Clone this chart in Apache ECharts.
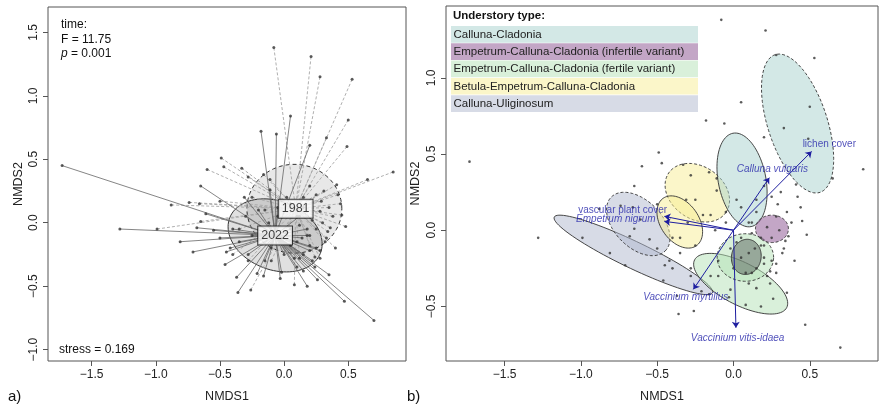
<!DOCTYPE html>
<html>
<head>
<meta charset="utf-8">
<script src="https://cdn.jsdelivr.net/npm/echarts@6/dist/echarts.min.js"></script>
<style>html,body{margin:0;padding:0;background:#fff;}#c{width:879px;height:408px;}</style>
</head>
<body>
<div id="c"></div>
<script>
// ---------------- DATA ----------------
const xTicks = [-1.5, -1.0, -0.5, 0.0, 0.5];
const yTicksA = [-1.0, -0.5, 0.0, 0.5, 1.0, 1.5];
const yTicksB = [-0.5, 0.0, 0.5, 1.0];

// site scores, 1981 survey
const pts1981 = [
  [-0.08,1.38],[0.21,1.31],[0.28,1.15],[0.53,1.13],[0.50,0.81],[0.33,0.67],[0.49,0.60],[0.85,0.40],[0.65,0.34],
  [-0.49,0.51],[-0.60,0.42],[-0.33,0.43],[-0.47,0.44],[-0.74,0.16],[-0.66,0.15],[-0.50,0.17],[-0.99,-0.05],[-0.65,0.01],[-0.88,0.14],[-0.28,0.36],
  [-0.16,0.38],[-0.11,0.34],[0.02,0.20],[0.20,0.29],[0.41,0.30],[0.42,0.22],[0.44,0.15],[0.45,0.06],[0.48,-0.03],[0.40,-0.20],
  [0.34,-0.07],[0.33,-0.12],[0.28,0.09],[0.29,0.17],[0.36,-0.04],[0.24,-0.27],[0.28,-0.28],[0.10,0.05],[0.15,0.12],[0.22,0.02],
  [0.05,0.15],[0.25,-0.05],[0.18,-0.10],[0.30,0.00],[0.12,-0.02],[-0.05,0.05],[0.35,0.12],[0.25,0.22],[0.02,-0.08],[0.20,-0.18],
  [0.32,-0.15],[-0.15,0.10],[-0.25,0.20],[-0.35,-0.05],[0.38,0.05],[0.31,0.25],[0.15,0.20],
  [-0.26,-0.53],[0.08,-0.49],[-0.28,-0.30],[-0.40,-0.25],[-0.10,-0.30],[0.12,-0.28]
];
// site scores, 2022 resurvey
const pts2022 = [
  [-1.73,0.45],[-1.28,-0.05],[-0.81,-0.15],[-0.71,-0.23],[-0.68,-0.04],[-0.65,0.29],[-0.61,0.07],[-0.18,0.72],[-0.06,0.70],[0.05,0.84],
  [0.20,0.61],[0.70,-0.77],[0.47,-0.62],[0.35,-0.41],[0.26,-0.45],[0.18,-0.50],[-0.36,-0.55],[-0.37,-0.43],[-0.16,-0.42],[-0.21,-0.40],
  [-0.03,-0.44],[-0.02,-0.39],[-0.46,-0.33],[-0.45,-0.23],[-0.42,-0.20],[-0.55,-0.06],[-0.50,-0.12],[-0.11,0.26],[-0.31,0.20],
  [-0.30,0.05],[-0.25,-0.10],[-0.20,0.10],[-0.35,-0.15],[-0.10,-0.20],[0.00,-0.25],[0.10,-0.15],[0.15,-0.25],[0.20,-0.10],[0.22,-0.30],
  [0.25,-0.20],[0.05,-0.05],[-0.05,0.12],[-0.15,-0.30],[0.10,-0.35],[0.18,-0.05],[0.28,-0.22],[0.12,0.05],[-0.40,-0.05],[-0.28,-0.25],
  [0.08,-0.28],[0.15,-0.38],[0.24,-0.35],[-0.12,0.00],[0.05,-0.18],[-0.02,-0.12],[0.14,-0.12],[0.20,-0.22]
];
const centroid1981 = [0.09, 0.11];
const centroid2022 = [-0.07, -0.10];
const yearLabels = ['1981', '2022'];
// time ellipses: [cx, cy, semiA, semiB, angleDeg]
const timeEllipse1981 = [0.08, 0.11, 0.37, 0.35, 0];
const timeEllipse2022 = [-0.07, -0.10, 0.38, 0.27, -22];

// understory types
const typeNames = ['Calluna-Cladonia','Empetrum-Calluna-Cladonia (infertile variant)','Empetrum-Calluna-Cladonia (fertile variant)','Betula-Empetrum-Calluna-Cladonia','Calluna-Uliginosum'];
// type ellipses: [cx, cy, semiA, semiB, angleDeg, typeIndex, dashed(1=1981)]
const typeEllipses = [
  [-0.656,-0.162,0.575,0.088,-25.6,4,0],
  [-0.624, 0.041,0.250,0.155,-45,4,1],
  [-0.237, 0.246,0.228,0.172,-35,3,1],
  [-0.352, 0.054,0.190,0.125,-55,3,0],
  [ 0.056, 0.330,0.312,0.156,101,0,0],
  [ 0.420, 0.700,0.475,0.195,108,0,1],
  [ 0.047,-0.351,0.340,0.138,-27.5,2,0],
  [ 0.078,-0.179,0.185,0.156,0,2,1],
  [ 0.252, 0.009,0.108,0.090,0,1,1],
  [ 0.084,-0.175,0.116,0.097,80,1,0]
];
// envfit vectors
const vecNames = ['lichen cover','Calluna vulgaris','vascular plant cover','Empetrum nigrum','Vaccinium myrtillus','Vaccinium vitis-idaea'];
const vecTips = [[0.512,0.517],[0.235,0.345],[-0.453,0.091],[-0.453,0.058],[-0.263,-0.388],[0.016,-0.640]];
const vecLabelPos = [[0.628,0.567],[0.255,0.399],[-0.726,0.134],[-0.771,0.069],[-0.313,-0.442],[0.027,-0.707]];
const vecItalic = [false,true,false,true,true,true];

// ---------------- STYLE ----------------
const FONT = '"Liberation Sans", Arial, Helvetica, sans-serif';
const typeFill = ['rgba(167,209,205,0.5)','rgba(135,77,141,0.5)','rgba(179,225,181,0.5)','rgba(247,237,147,0.5)','rgba(175,183,205,0.5)'];
const typeLegend = ['#d3e8e6','#c3a6c6','#d9f0da','#fbf6c9','#d7dbe6'];
const darkOverride = 'rgba(85,95,90,0.5)';
const fmt = v => (v < 0 ? '\u2212' : '') + Math.abs(v).toFixed(1);

function xAxisCfg(gi, min, max) {
  return {
    type: 'value', gridIndex: gi, min: min, max: max,
    name: 'NMDS1', nameLocation: 'middle', nameGap: 29,
    nameTextStyle: {fontSize: 12.5, color: '#222', fontFamily: FONT},
    axisLine: {show: false, onZero: false},
    splitLine: {show: false},
    axisTick: {show: true, customValues: xTicks, length: 5, lineStyle: {color: '#555'}},
    axisLabel: {customValues: xTicks, formatter: fmt, fontSize: 12, color: '#222', fontFamily: FONT, margin: 8}
  };
}
function yAxisCfg(gi, min, max, ticks, gap) {
  return {
    type: 'value', gridIndex: gi, min: min, max: max,
    name: 'NMDS2', nameLocation: 'middle', nameGap: gap,
    nameTextStyle: {fontSize: 12.5, color: '#222', fontFamily: FONT},
    axisLine: {show: false, onZero: false},
    splitLine: {show: false},
    axisTick: {show: true, customValues: ticks, length: 5, lineStyle: {color: '#555'}},
    axisLabel: {customValues: ticks, formatter: fmt, rotate: 90, fontSize: 12, color: '#222', fontFamily: FONT, margin: 8}
  };
}

function ellipsePoly(api, cx, cy, a, b, angDeg) {
  const th = angDeg * Math.PI / 180, c = Math.cos(th), s = Math.sin(th);
  const out = [];
  for (let k = 0; k < 90; k++) {
    const t = 2 * Math.PI * k / 90;
    const ex = a * Math.cos(t), ey = b * Math.sin(t);
    out.push(api.coord([cx + ex * c - ey * s, cy + ex * s + ey * c]));
  }
  return out;
}

const series = [];
// ---- Panel a: time ellipses
series.push({
  type: 'custom', xAxisIndex: 0, yAxisIndex: 0, z: 1, silent: true, clip: true,
  data: [timeEllipse1981.concat([1]), timeEllipse2022.concat([0])],
  encode: {x: 0, y: 1},
  renderItem: function (params, api) {
    const dashed = api.value(5) === 1;
    return {
      type: 'polygon',
      shape: {points: ellipsePoly(api, api.value(0), api.value(1), api.value(2), api.value(3), api.value(4))},
      style: {fill: dashed ? 'rgba(0,0,0,0.09)' : 'rgba(0,0,0,0.12)', stroke: '#333', lineWidth: 1, lineDash: dashed ? [4, 3] : null}
    };
  }
});
// spider lines
series.push({
  type: 'lines', coordinateSystem: 'cartesian2d', xAxisIndex: 0, yAxisIndex: 0, z: 2, silent: true,
  data: pts1981.map(p => ({coords: [p, centroid1981]})),
  lineStyle: {color: '#a6a6a6', width: 0.9, type: [3, 2], opacity: 1}
});
series.push({
  type: 'lines', coordinateSystem: 'cartesian2d', xAxisIndex: 0, yAxisIndex: 0, z: 2, silent: true,
  data: pts2022.map(p => ({coords: [p, centroid2022]})),
  lineStyle: {color: '#666', width: 0.8, type: 'solid', opacity: 1}
});
series.push({
  type: 'scatter', xAxisIndex: 0, yAxisIndex: 0, z: 3, silent: true,
  data: pts1981.concat(pts2022), symbolSize: 3, itemStyle: {color: '#333'}
});
series.push({
  type: 'scatter', xAxisIndex: 0, yAxisIndex: 0, z: 4, silent: true, symbolSize: 0,
  data: [centroid1981.concat([yearLabels[0]]), centroid2022.concat([yearLabels[1]])],
  label: {show: true, position: 'inside', formatter: p => p.value[2], fontSize: 12.5, color: '#111', fontFamily: FONT,
    backgroundColor: '#fff', borderColor: '#111', borderWidth: 1, padding: [3, 3, 2, 3]}
});

// ---- Panel b: type ellipses
series.push({
  type: 'custom', xAxisIndex: 1, yAxisIndex: 1, z: 1, silent: true, clip: true,
  data: typeEllipses, encode: {x: 0, y: 1},
  renderItem: function (params, api) {
    const dashed = api.value(6) === 1;
    const g = api.value(5);
    const fill = (g === 1 && !dashed) ? darkOverride : typeFill[g];
    return {
      type: 'polygon',
      shape: {points: ellipsePoly(api, api.value(0), api.value(1), api.value(2), api.value(3), api.value(4))},
      style: {fill: fill, stroke: '#333', lineWidth: 0.9, lineDash: dashed ? [3, 2] : null}
    };
  }
});
series.push({
  type: 'scatter', xAxisIndex: 1, yAxisIndex: 1, z: 2, silent: true,
  data: pts1981.concat(pts2022), symbolSize: 2.6, itemStyle: {color: '#333'}
});
series.push({
  type: 'lines', coordinateSystem: 'cartesian2d', xAxisIndex: 1, yAxisIndex: 1, z: 3, silent: true,
  data: vecTips.map(t => ({coords: [[0, 0], t]})),
  symbol: ['none', 'arrow'], symbolSize: 6,
  lineStyle: {color: '#1e1ea0', width: 1, opacity: 1}
});
series.push({
  type: 'scatter', xAxisIndex: 1, yAxisIndex: 1, z: 4, silent: true, symbolSize: 0,
  data: vecLabelPos.map((p, i) => ({value: p, name: vecNames[i],
    label: {fontStyle: vecItalic[i] ? 'italic' : 'normal'}})),
  label: {show: true, position: 'inside', formatter: p => p.name, fontSize: 10, color: '#2626aa', fontFamily: FONT}
});

// ---- legend graphics (panel b)
const graphic = [];
graphic.push({type: 'text', x: 453, y: 15.5, style: {text: 'Understory type:', font: 'bold 11.5px ' + FONT, fill: '#111', verticalAlign: 'middle'}, z: 10});
typeNames.forEach((n, i) => {
  graphic.push({type: 'rect', shape: {x: 451, y: 26 + i * 17.3, width: 247, height: 16.7}, style: {fill: typeLegend[i]}, z: 10});
  graphic.push({type: 'text', x: 453.5, y: 26 + i * 17.3 + 8.7, style: {text: n, font: '11.5px ' + FONT, fill: '#222', verticalAlign: 'middle'}, z: 11});
});
// panel a annotations
graphic.push({type: 'text', x: 61, y: 25, style: {text: 'time:', font: '12px ' + FONT, fill: '#111', verticalAlign: 'middle'}});
graphic.push({type: 'text', x: 61, y: 39.5, style: {text: 'F = 11.75', font: '12px ' + FONT, fill: '#111', verticalAlign: 'middle'}});
graphic.push({type: 'text', x: 61, y: 54, style: {text: '{i|p} = 0.001', font: '12px ' + FONT, fill: '#111', verticalAlign: 'middle',
  rich: {i: {fontStyle: 'italic', fontSize: 12, fontFamily: FONT}}}});
graphic.push({type: 'text', x: 59, y: 350, style: {text: 'stress = 0.169', font: '12px ' + FONT, fill: '#111', verticalAlign: 'middle'}});
graphic.push({type: 'text', x: 8, y: 397, style: {text: 'a)', font: '15px ' + FONT, fill: '#111', verticalAlign: 'middle'}});
graphic.push({type: 'text', x: 407, y: 397, style: {text: 'b)', font: '15px ' + FONT, fill: '#111', verticalAlign: 'middle'}});

const chart = echarts.init(document.getElementById('c'), null, {renderer: 'canvas'});
chart.setOption({
  animation: false,
  backgroundColor: '#fff',
  textStyle: {fontFamily: FONT},
  grid: [
    {left: 48, top: 7, width: 358, height: 358, show: true, borderColor: '#555', borderWidth: 1, backgroundColor: 'transparent', containLabel: false},
    {left: 446, top: 6, width: 432, height: 360, show: true, borderColor: '#555', borderWidth: 1, backgroundColor: 'transparent', containLabel: false}
  ],
  xAxis: [xAxisCfg(0, -1.84, 0.95), xAxisCfg(1, -1.884, 0.947)],
  yAxis: [yAxisCfg(0, -1.09, 1.70, yTicksA, 23), yAxisCfg(1, -0.858, 1.471, yTicksB, 24)],
  series: series,
  graphic: graphic
});
</script>
</body>
</html>
